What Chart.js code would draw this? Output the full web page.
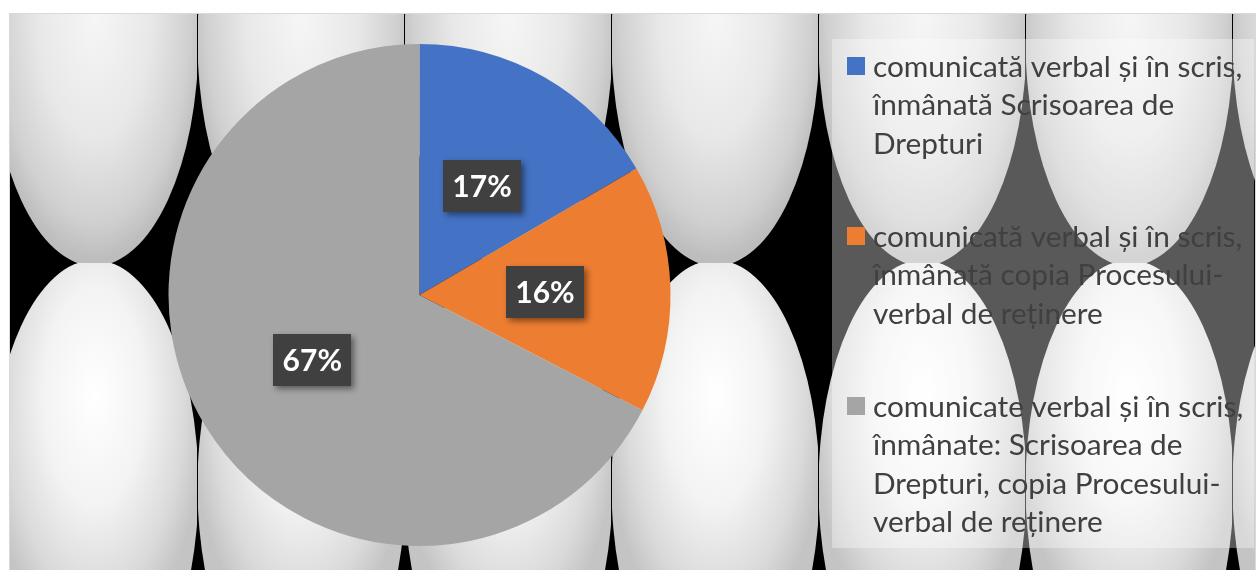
<!DOCTYPE html>
<html><head><meta charset="utf-8">
<script src="https://cdn.jsdelivr.net/npm/chart.js@4.4.1/dist/chart.umd.min.js"></script>
<style>html,body{margin:0;padding:0;background:#fff;overflow:hidden}#wrap{width:1257px;height:570px;position:relative}</style>
</head><body><div id="wrap"><canvas id="c" width="1257" height="570"></canvas></div>
<script>
const categories = [
  ['comunicată verbal și în scris,', 'înmânată Scrisoarea de', 'Drepturi'],
  ['comunicată verbal și în scris,', 'înmânată copia Procesului-', 'verbal de reținere'],
  ['comunicate verbal și în scris,', 'înmânate: Scrisoarea de', 'Drepturi, copia Procesului-', 'verbal de reținere']
];
const values = [16.6, 16.0, 67.4];
const colors = ['#4472C4', '#ED7D31', '#A5A5A5'];

const TILE_W = 207, TILE_X0 = -9, TILE_H = 446, ROW_Y = 263;

const bgPlugin = {
  id: 'bg',
  beforeDraw(chart) {
    const ctx = chart.ctx;
    ctx.save();
    ctx.fillStyle = '#fff'; ctx.fillRect(0, 0, 1257, 570);
    ctx.beginPath(); ctx.rect(10, 14, 1245, 560); ctx.clip();
    ctx.fillStyle = '#000'; ctx.fillRect(10, 14, 1245, 560);
    const a = 104, b = 226;
    for (let row = 0; row < 2; row++) {
      const y0 = ROW_Y - TILE_H + row * TILE_H;
      const cy = y0 + TILE_H / 2;
      for (let i = 0; i < 7; i++) {
        const x0 = TILE_X0 + i * TILE_W;
        const cx = x0 + TILE_W / 2;
        ctx.save();
        ctx.beginPath(); ctx.rect(x0, y0, TILE_W - 1, TILE_H); ctx.clip();
        ctx.translate(cx, cy);
        ctx.scale(1, b / a);
        const gy = (row === 0 ? -25 : -90) * a / b;
        const g = ctx.createRadialGradient(0, gy, 0, 0, gy, a * 1.08);
        if (row === 0) {
          g.addColorStop(0, '#f6f6f6'); g.addColorStop(0.5, '#e8e8e8');
          g.addColorStop(0.85, '#d0d0d0'); g.addColorStop(1, '#bdbdbd');
        } else {
          g.addColorStop(0, '#ffffff'); g.addColorStop(0.45, '#f3f3f3');
          g.addColorStop(0.8, '#dadada'); g.addColorStop(1, '#c4c4c4');
        }
        ctx.fillStyle = g;
        ctx.beginPath(); ctx.arc(0, 0, a, 0, Math.PI * 2); ctx.fill();
        ctx.restore();
      }
    }
    ctx.restore();
    ctx.save();
    ctx.strokeStyle = '#d9d9d9'; ctx.lineWidth = 1;
    ctx.strokeRect(9.5, 13.5, 1246, 600);
    ctx.restore();
  }
};

const labelPlugin = {
  id: 'pctLabels',
  afterDatasetsDraw(chart) {
    const ctx = chart.ctx;
    const meta = chart.getDatasetMeta(0);
    const ds = chart.data.datasets[0].data;
    const total = ds.reduce((s, v) => s + v, 0);
    meta.data.forEach((arc, i) => {
      const p = arc.getCenterPoint();
      const txt = Math.round(ds[i] / total * 100) + '%';
      ctx.save();
      ctx.font = 'bold 30px Lato';
      const w = ctx.measureText(txt).width + 19, h = 52;
      ctx.shadowColor = 'rgba(0,0,0,0.45)'; ctx.shadowBlur = 6;
      ctx.shadowOffsetX = 3; ctx.shadowOffsetY = 3;
      ctx.fillStyle = '#404040';
      ctx.fillRect(Math.round(p.x - w / 2), Math.round(p.y - h / 2), Math.round(w), h);
      ctx.shadowColor = 'transparent';
      ctx.fillStyle = '#fff'; ctx.textAlign = 'center'; ctx.textBaseline = 'middle';
      ctx.fillText(txt, p.x, p.y + 1);
      ctx.restore();
    });
  }
};

const legendPlugin = {
  id: 'customLegend',
  afterDraw(chart) {
    const ctx = chart.ctx;
    const labels = chart.data.labels;
    const bg = chart.data.datasets[0].backgroundColor;
    ctx.save();
    ctx.fillStyle = 'rgba(255,255,255,0.35)';
    ctx.fillRect(832, 39, 422, 509);
    ctx.font = '29.8px Lato';
    ctx.textBaseline = 'middle'; ctx.textAlign = 'left';
    const lineH = 38.5, firstY = 67, itemGap = 170;
    labels.forEach((lines, i) => {
      const y = firstY + i * itemGap;
      ctx.fillStyle = bg[i];
      ctx.fillRect(847, y - 10, 18, 18);
      ctx.fillStyle = '#404040';
      lines.forEach((ln, j) => ctx.fillText(ln, 873, y + j * lineH));
    });
    ctx.restore();
  }
};

new Chart(document.getElementById('c'), {
  type: 'pie',
  data: {
    labels: categories,
    datasets: [{ data: values, backgroundColor: colors, borderWidth: 0 }]
  },
  options: {
    responsive: false,
    animation: false,
    layout: { padding: { left: 168.5, right: 586.5, top: 44, bottom: 24 } },
    plugins: { legend: { display: false }, tooltip: { enabled: false } }
  },
  plugins: [bgPlugin, labelPlugin, legendPlugin]
});
</script></body></html>
